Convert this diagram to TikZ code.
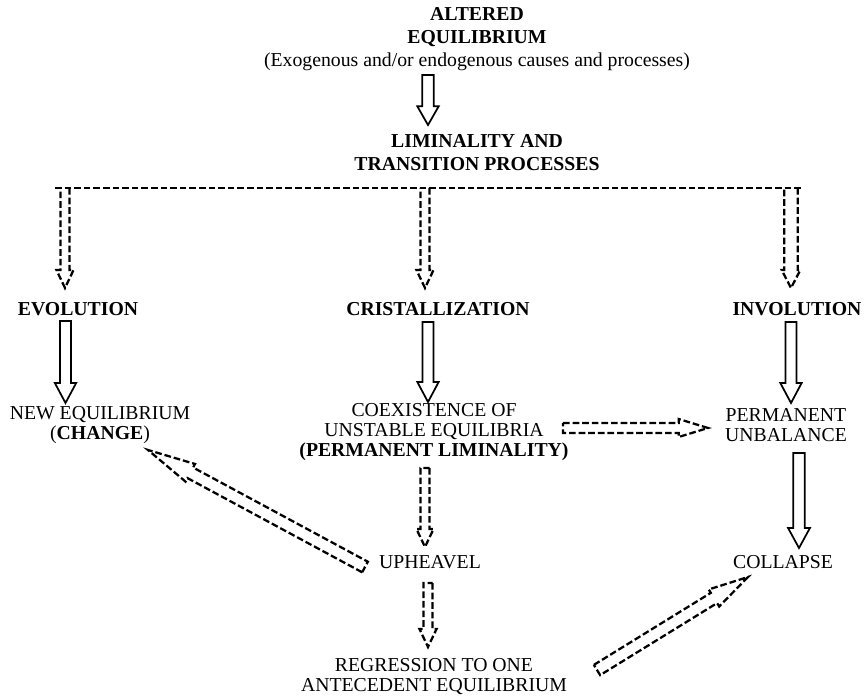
\documentclass[tikz,border=0pt]{standalone}
\usepackage{fontspec}
\setmainfont{Liberation Serif}
\usetikzlibrary{calc}
\tikzset{
  lbl/.style={inner sep=0pt, align=center, font=\fontsize{14.8}{15}\selectfont},
  ttl/.style={inner sep=0pt, align=center, font=\fontsize{14.8}{17.25}\selectfont\bfseries},
  bld/.style={inner sep=0pt, align=center, font=\fontsize{14.8}{15}\selectfont\bfseries},
  solidarr/.style={draw, line width=1.3pt, line join=miter},
  dasharr/.style={draw, line width=1.7pt, dash pattern=on 5pt off 2.2pt},
}
% #1 style, #2 start, #3 tip, #4 shaft half width, #5 head half width, #6 head length, #7 closing
\newcommand{\harrow}[7][]{%
  \coordinate (hAs) at (#2);%
  \coordinate (hAe) at (#3);%
  \coordinate (hAh) at ($(hAe)!#6!(hAs)$);%
  \path[#1] ($(hAs)!#4!90:(hAe)$) -- ($(hAh)!#4!90:(hAe)$) -- ($(hAh)!#5!90:(hAe)$) -- (hAe) -- ($(hAh)!#5!-90:(hAe)$) -- ($(hAh)!#4!-90:(hAe)$) -- ($(hAs)!#4!-90:(hAe)$) #7;%
}
\begin{document}
\begin{tikzpicture}[x=0.75pt,y=-0.75pt]
\useasboundingbox (0,0) rectangle (864,698);

% text nodes
\node[ttl] (alt) at (477,39) {ALTERED\\EQUILIBRIUM\\{\mdseries (Exogenous and/or endogenous causes and processes)}};
\node[ttl] (lim) at (477,153) {LIMINALITY AND\\TRANSITION PROCESSES};
\node[bld] (evo) at (78,309) {EVOLUTION};
\node[bld] (cri) at (438,309) {CRISTALLIZATION};
\node[bld] (inv) at (797,309) {INVOLUTION};
\node[lbl] (neweq) at (100,425) {NEW EQUILIBRIUM\\({\bfseries CHANGE})};
\node[lbl] (coex) at (434,432.5) {COEXISTENCE OF\\UNSTABLE EQUILIBRIA\\{\bfseries (PERMANENT LIMINALITY)}};
\node[lbl] (perm) at (786,425) {PERMANENT\\UNBALANCE};
\node[lbl] (uph) at (430,562) {UPHEAVEL};
\node[lbl] (col) at (783,562) {COLLAPSE};
\node[lbl] (regr) at (434,677) {REGRESSION TO ONE\\ANTECEDENT EQUILIBRIUM};

% distribution bar
\coordinate (barL) at (55,188);
\coordinate (barR) at (802,188);
\draw[dasharr] (barL) -- (barR);

% solid hollow arrows
\harrow[solidarr]{$(alt.center)+(-49,36)$}{$(lim.center)+(-49,-28)$}{4.3pt}{8pt}{14pt}{-- cycle}
\harrow[solidarr]{$(evo.center)+(-12.5,12)$}{$(neweq.center)+(-34.5,-22)$}{4.1pt}{8pt}{15pt}{-- cycle}
\harrow[solidarr]{$(cri.center)+(-10,13)$}{$(coex.center)+(-6,-30.5)$}{4.1pt}{8pt}{15pt}{-- cycle}
\harrow[solidarr]{$(inv.center)+(-6,13)$}{$(perm.center)+(5,-22)$}{4.1pt}{8pt}{15pt}{-- cycle}
\harrow[solidarr]{$(perm.center)+(13,28)$}{$(col.center)+(16,-14)$}{4.3pt}{8.2pt}{15pt}{-- cycle}

% dashed hollow arrows from the bar
\harrow[dasharr]{$(barL)+(10,0)$}{$(evo.center)+(-13,-21)$}{3.4pt}{6.4pt}{13.5pt}{}
\harrow[dasharr]{$(barL)!0.4953!(barR)$}{$(cri.center)+(-13,-21)$}{3.4pt}{6.4pt}{13.5pt}{}
\harrow[dasharr]{$(barR)+(-11,0)$}{$(inv.center)+(-6,-21)$}{5pt}{7pt}{13.5pt}{}

% other dashed hollow arrows
\harrow[dasharr]{$(coex.center)+(129,-4.5)$}{$(perm.center)+(-78,3)$}{3.75pt}{6.75pt}{22pt}{-- cycle}
\harrow[dasharr]{$(coex.center)+(-9,35.5)$}{$(uph.center)+(-5,-15)$}{3.4pt}{6.4pt}{13.5pt}{-- cycle}
\harrow[dasharr]{$(uph.center)+(-65,5)$}{$(neweq.center)+(48,25)$}{4.5pt}{7.5pt}{36pt}{-- cycle}
\harrow[dasharr]{$(uph.center)+(-2,21)$}{$(regr.center)+(-6,-30)$}{3.4pt}{6.4pt}{13.5pt}{-- cycle}
\harrow[dasharr]{$(regr.center)+(163,-7)$}{$(col.center)+(-35,15)$}{4.5pt}{7.5pt}{30pt}{-- cycle}
\end{tikzpicture}
\end{document}
